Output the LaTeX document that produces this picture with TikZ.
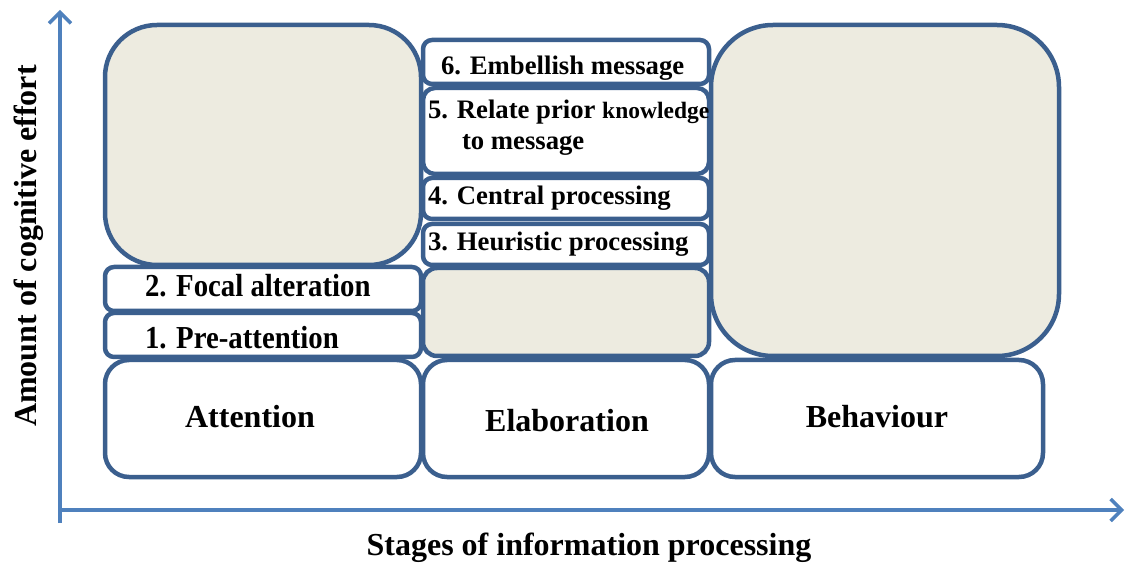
\documentclass[tikz,border=0pt]{standalone}
\usepackage{fontspec}
\usepackage{graphicx}
\setmainfont{Liberation Serif}
\usetikzlibrary{arrows.meta}
\definecolor{boxline}{HTML}{3B5F8E}
\definecolor{boxfill}{HTML}{EDEBE0}
\definecolor{axisblue}{HTML}{4F81BD}
\newcommand{\narrow}[1]{\scalebox{0.9}[1]{#1}}
\tikzset{
  panel/.style={draw=boxline, line width=4.5pt, fill=white},
  shaded/.style={panel, fill=boxfill},
  axisline/.style={draw=axisblue, line width=3.5pt,
    -{Straight Barb[length=11pt,width=22pt,line width=3.5pt]}},
  big/.style={font=\fontsize{32}{36}\selectfont\bfseries},
  mid/.style={font=\fontsize{26.7}{30}\selectfont\bfseries},
  lbl/.style={inner sep=0pt, outer sep=0pt},
}
\begin{document}
\begin{tikzpicture}[x=1pt,y=-1pt]
\useasboundingbox (0,0) rectangle (1125,569);

% axes
\coordinate (origin) at (60,523);
\coordinate (ytop) at (60,10);
\coordinate (xorig) at (60,510);
\coordinate (xend) at (1124,510);
\draw[axisline] (origin) -- (ytop);
\draw[axisline] (xorig) -- (xend);

% attention column
\draw[shaded, rounded corners=52pt] (105,25) rectangle (421,265);
\draw[panel, rounded corners=9pt] (105,267) rectangle (421,311);
\draw[panel, rounded corners=9pt] (105,313) rectangle (421,357);
\draw[panel, rounded corners=24pt] (105,360) rectangle (421,477);

% elaboration column
\draw[panel, rounded corners=9pt] (423,40) rectangle (709,84);
\draw[panel, rounded corners=12pt] (423,88) rectangle (709,174);
\draw[panel, rounded corners=9pt] (423,178) rectangle (709,219);
\draw[panel, rounded corners=9pt] (423,224) rectangle (709,265);
\draw[shaded, rounded corners=14pt] (423,268) rectangle (709,356);
\draw[panel, rounded corners=24pt] (423,360) rectangle (709,477);

% behaviour column
\draw[shaded, rounded corners=62pt] (711,25) rectangle (1059,356);
\draw[panel, rounded corners=24pt] (711,360) rectangle (1043,477);

% stage labels
\node[lbl, big, anchor=base] (att) at (250,427) {Attention};
\node[lbl, big, anchor=base] (ela) at (567,431) {Elaboration};
\node[lbl, big, anchor=base] (beh) at (877,427) {Behaviour};

% step labels
\node[lbl, big, anchor=base west] (s1) at (145,349) {\narrow{1. Pre-attention}};
\node[lbl, big, anchor=base west] (s2) at (145,297) {\narrow{2. Focal alteration}};
\node[lbl, mid, anchor=base west] (s3) at (428,251) {3. Heuristic processing};
\node[lbl, mid, anchor=base west] (s4) at (428,205) {4. Central processing};
\node[lbl, mid, anchor=base west] (s5) at (428,119) {5. Relate prior {\fontsize{23.5}{27}\selectfont knowledge}};
\node[lbl, mid, anchor=base west] (s5b) at (462,150) {to message};
\node[lbl, mid, anchor=base west] (s6) at (441,75) {6. Embellish message};

% axis titles
\node[lbl, big, anchor=base] (xlab) at (589,555) {Stages of information processing};
\node[lbl, big, anchor=base, rotate=90] (ylab) at (36,246) {Amount of cognitive effort};
\end{tikzpicture}
\end{document}
